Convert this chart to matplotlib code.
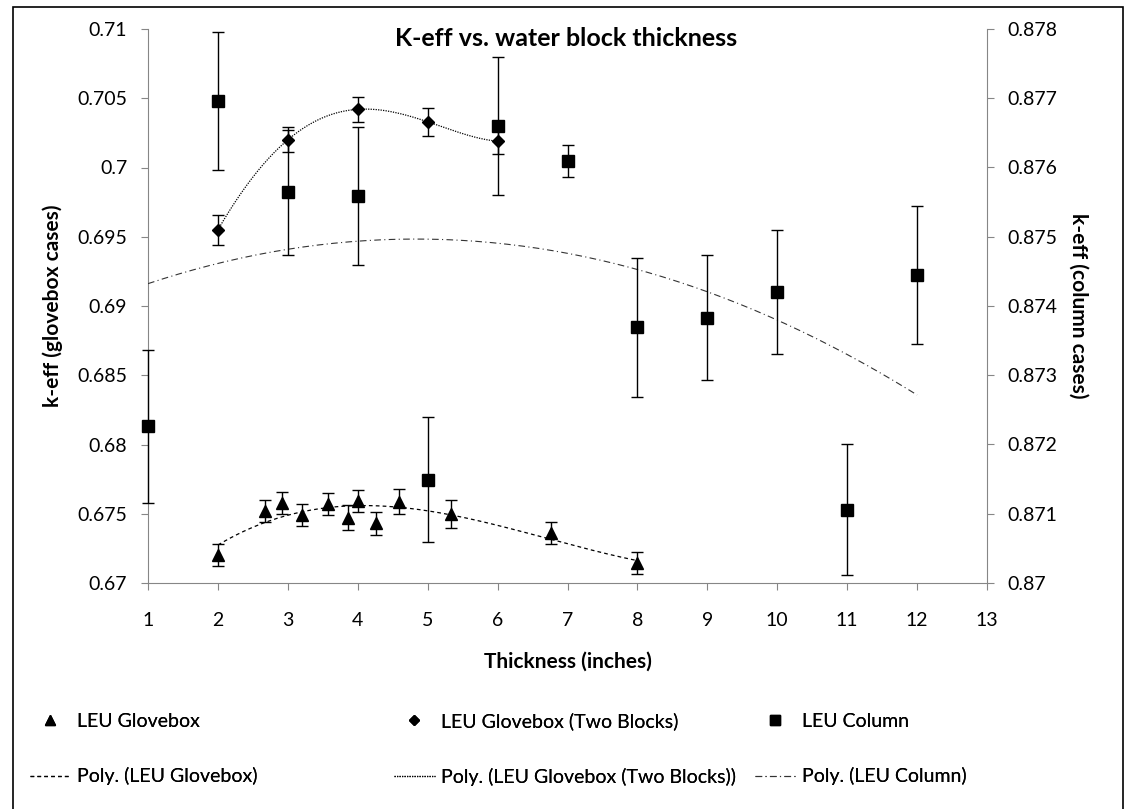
import numpy as np
import matplotlib
matplotlib.use("Agg")
import matplotlib.pyplot as plt
from matplotlib.lines import Line2D
from matplotlib.patches import Rectangle

plt.rcParams['font.family'] = ['Lato', 'DejaVu Sans']

# LEU Glovebox (left axis)
gb_x = [2.0, 2.67, 2.92, 3.2, 3.57, 3.86, 4.0, 4.26, 4.59, 5.34, 6.76, 8.0]
gb_y = [0.6720, 0.6752, 0.67575, 0.6749, 0.6757, 0.6747, 0.6759, 0.6743, 0.67587, 0.6750, 0.6736, 0.67142]
gb_err = [0.0008, 0.0008, 0.0008, 0.0008, 0.0008, 0.0009, 0.0008, 0.0008, 0.0009, 0.001, 0.0008, 0.0008]

# LEU Glovebox (Two Blocks) (left axis)
tb_x = [2, 3, 4, 5, 6]
tb_y = [0.6955, 0.7020, 0.7042, 0.7033, 0.7019]
tb_err = [0.0011, 0.0009, 0.0009, 0.001, 0.0009]

# LEU Column (right axis)
col_x = [1, 2, 3, 4, 5, 6, 7, 8, 9, 10, 11, 12]
col_y = [0.87226, 0.87696, 0.87564, 0.87559, 0.87149, 0.8766, 0.8761, 0.87369, 0.87383, 0.8742, 0.87106, 0.87445]
col_err = [0.0011, 0.001, 0.0009, 0.001, 0.0009, 0.001, 0.00023, 0.001, 0.0009, 0.0009, 0.00095, 0.001]

fig = plt.figure(figsize=(11.25, 8.09), dpi=100)
ax = fig.add_axes([148/1125, 1-583/809, (987-148)/1125, (583-29)/809])
ax2 = ax.twinx()

gray = '#868686'
for a in (ax, ax2):
    for s in a.spines.values():
        s.set_visible(False)
ax.spines['left'].set_visible(True)
ax.spines['bottom'].set_visible(True)
ax2.spines['right'].set_visible(True)
ax.spines['left'].set_color(gray)
ax.spines['bottom'].set_color(gray)
ax2.spines['right'].set_color(gray)

ax.set_xlim(1, 13)
ax.set_ylim(0.67, 0.71)
ax2.set_ylim(0.87, 0.878)
ax.set_xticks(range(1, 14))
ax.set_yticks(np.arange(0.67, 0.7101, 0.005))
ax.set_yticklabels(['0.67', '0.675', '0.68', '0.685', '0.69', '0.695', '0.7', '0.705', '0.71'])
ax2.set_yticks(np.arange(0.87, 0.87801, 0.001))
ax2.set_yticklabels(['0.87', '0.871', '0.872', '0.873', '0.874', '0.875', '0.876', '0.877', '0.878'])
for a in (ax, ax2):
    a.tick_params(axis='both', direction='out', length=5, color=gray, labelsize=14, pad=10)
ax.tick_params(axis='x', pad=16)

ekw = dict(ecolor='black', elinewidth=1.0, capsize=4, capthick=1.0, color='black', linestyle='none')

# trendlines
xs = np.linspace(2, 8, 200)
ax.plot(xs, np.polyval(np.polyfit(gb_x, gb_y, 3), xs), color='black', lw=0.9, dashes=(3, 2.5))
xs = np.linspace(2, 6, 200)
ax.plot(xs, np.polyval(np.polyfit(tb_x, tb_y, 4), xs), color='black', lw=0.9, dashes=(1, 1))
xs = np.linspace(1, 12, 200)
ax2.plot(xs, np.polyval(np.polyfit(col_x, col_y, 2), xs), color='#333333', lw=0.8, dashes=(6, 3, 1, 3))

ax.errorbar(gb_x, gb_y, yerr=gb_err, marker='^', markersize=8, **ekw)
ax.errorbar(tb_x, tb_y, yerr=tb_err, marker='D', markersize=6, **ekw)
eb = ax2.errorbar(col_x, col_y, yerr=col_err, marker='s', markersize=9, **ekw)
for art in eb.get_children():
    art.set_clip_on(False)
for a in (ax, ax2):
    a.patch.set_visible(False)

ax.set_xlabel('Thickness (inches)', fontsize=15, fontweight='bold', labelpad=16)
ax.set_ylabel('k-eff (glovebox cases)', fontsize=15, fontweight='bold', labelpad=10)
ax2.set_ylabel('k-eff (column cases)', fontsize=15, fontweight='bold', rotation=270, labelpad=22)
fig.text(566/1125, 1-39/809, 'K-eff vs. water block thickness',
         ha='center', va='center', fontsize=18, fontweight='bold')

leg_y = 1 - 749/809
entries = [
    (30, Line2D([], [], marker='^', color='black', ls='none', markersize=7), 'LEU Glovebox',
     Line2D([], [], color='black', lw=0.9, dashes=(3, 2.5)), 'Poly. (LEU Glovebox)'),
    (394, Line2D([], [], marker='D', color='black', ls='none', markersize=5), 'LEU Glovebox (Two Blocks)',
     Line2D([], [], color='black', lw=0.9, dashes=(1, 1)), 'Poly. (LEU Glovebox (Two Blocks))'),
    (755, Line2D([], [], marker='s', color='black', ls='none', markersize=7), 'LEU Column',
     Line2D([], [], color='#333333', lw=0.8, dashes=(6, 3, 1, 3)), 'Poly. (LEU Column)'),
]
for x0, h1, l1, h2, l2 in entries:
    leg = fig.legend([h1, h2], [l1, l2], loc='center left', bbox_to_anchor=(x0/1125, leg_y),
                     frameon=False, fontsize=14, handlelength=2.1, handletextpad=0.3,
                     labelspacing=1.95, borderpad=0, borderaxespad=0)
    fig.add_artist(leg)

fig.patches.append(Rectangle((13/1125, -0.01), (1123-13)/1125, 1.01-7/809, transform=fig.transFigure,
                             fill=False, edgecolor='black', lw=1.2))

fig.savefig('out.png', dpi=100)
